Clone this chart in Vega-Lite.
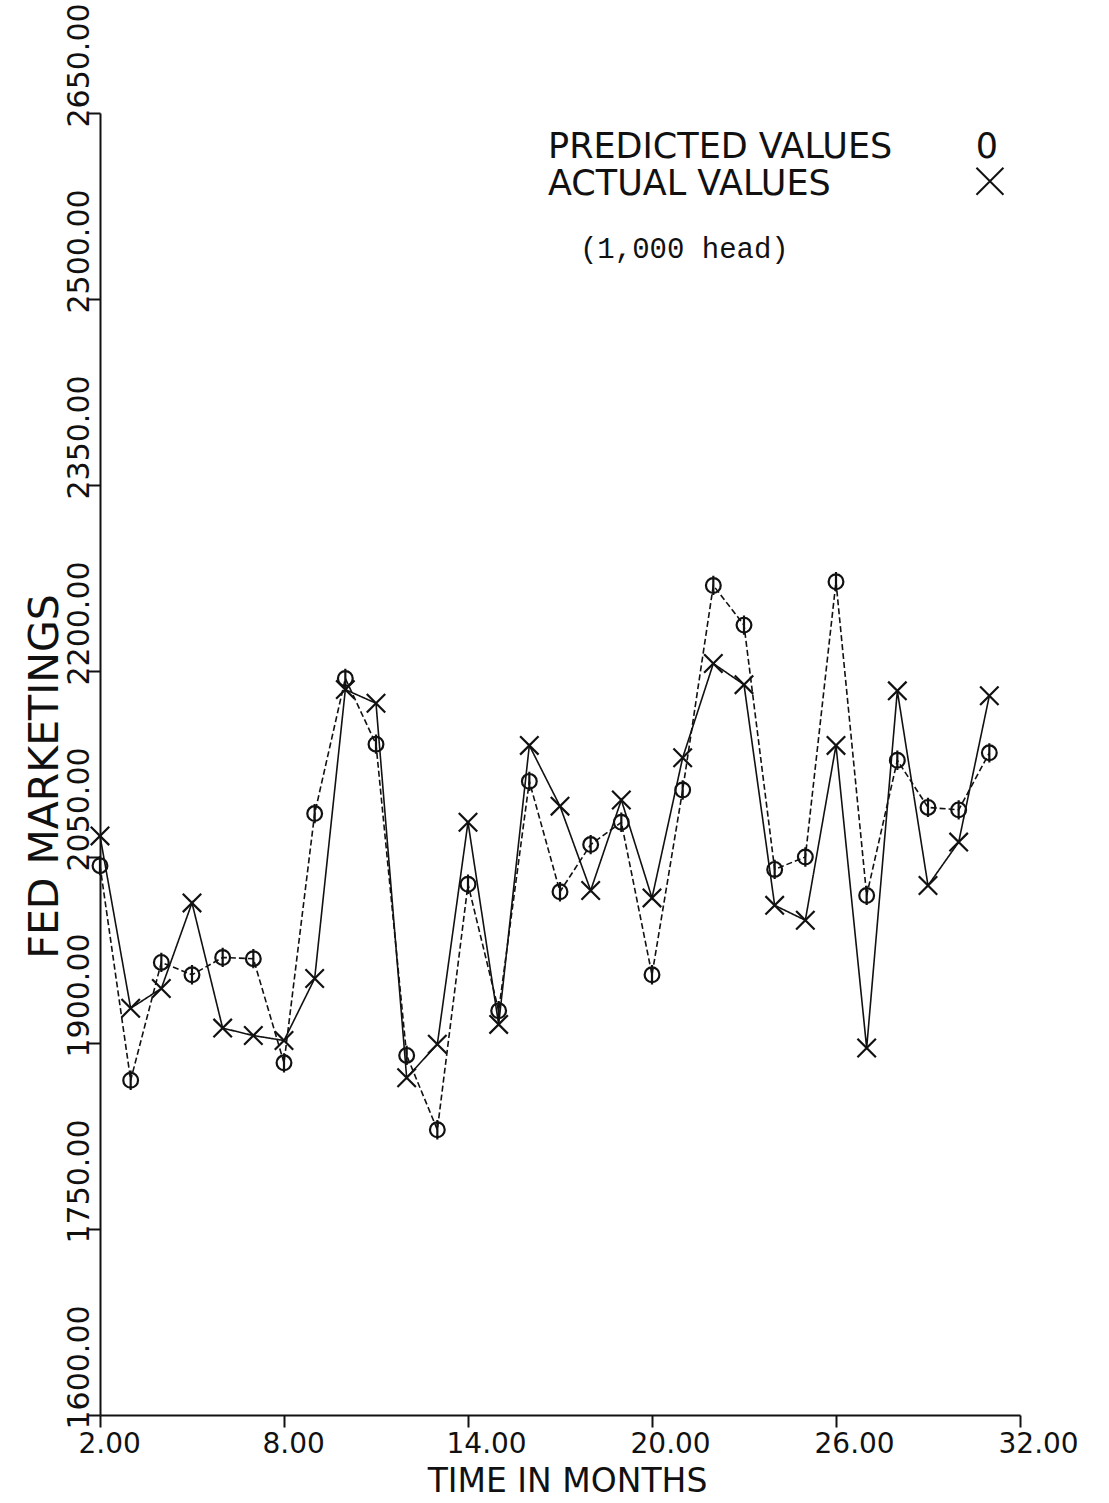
{
  "$schema": "https://vega.github.io/schema/vega-lite/v6.json",
  "width": 920,
  "height": 1302,
  "autosize": {"type": "none"},
  "padding": {"left": 100, "top": 113, "right": 89, "bottom": 88},
  "background": "white",
  "config": {
    "view": {"stroke": null},
    "axis": {
      "grid": false,
      "domainColor": "#111",
      "domainWidth": 2,
      "tickColor": "#111",
      "tickWidth": 2,
      "tickSize": 12,
      "labelColor": "#111",
      "labelFont": "DejaVu Sans",
      "labelFontSize": 30,
      "titleColor": "#111",
      "titleFont": "DejaVu Sans",
      "titleFontWeight": "normal"
    }
  },
  "datasets": {
    "series": [
      {"month": 2, "series": "Predicted", "value": 2043},
      {"month": 3, "series": "Predicted", "value": 1870},
      {"month": 4, "series": "Predicted", "value": 1965},
      {"month": 5, "series": "Predicted", "value": 1955},
      {"month": 6, "series": "Predicted", "value": 1969},
      {"month": 7, "series": "Predicted", "value": 1968},
      {"month": 8, "series": "Predicted", "value": 1884},
      {"month": 9, "series": "Predicted", "value": 2085},
      {"month": 10, "series": "Predicted", "value": 2194},
      {"month": 11, "series": "Predicted", "value": 2141},
      {"month": 12, "series": "Predicted", "value": 1890},
      {"month": 13, "series": "Predicted", "value": 1830},
      {"month": 14, "series": "Predicted", "value": 2028},
      {"month": 15, "series": "Predicted", "value": 1926},
      {"month": 16, "series": "Predicted", "value": 2111},
      {"month": 17, "series": "Predicted", "value": 2022},
      {"month": 18, "series": "Predicted", "value": 2060},
      {"month": 19, "series": "Predicted", "value": 2078},
      {"month": 20, "series": "Predicted", "value": 1955},
      {"month": 21, "series": "Predicted", "value": 2104},
      {"month": 22, "series": "Predicted", "value": 2269},
      {"month": 23, "series": "Predicted", "value": 2237},
      {"month": 24, "series": "Predicted", "value": 2040},
      {"month": 25, "series": "Predicted", "value": 2050},
      {"month": 26, "series": "Predicted", "value": 2272},
      {"month": 27, "series": "Predicted", "value": 2019},
      {"month": 28, "series": "Predicted", "value": 2128},
      {"month": 29, "series": "Predicted", "value": 2090},
      {"month": 30, "series": "Predicted", "value": 2088},
      {"month": 31, "series": "Predicted", "value": 2134},
      {"month": 2, "series": "Actual", "value": 2067},
      {"month": 3, "series": "Actual", "value": 1928},
      {"month": 4, "series": "Actual", "value": 1944},
      {"month": 5, "series": "Actual", "value": 2013},
      {"month": 6, "series": "Actual", "value": 1912},
      {"month": 7, "series": "Actual", "value": 1906},
      {"month": 8, "series": "Actual", "value": 1902},
      {"month": 9, "series": "Actual", "value": 1952},
      {"month": 10, "series": "Actual", "value": 2185},
      {"month": 11, "series": "Actual", "value": 2174},
      {"month": 12, "series": "Actual", "value": 1872},
      {"month": 13, "series": "Actual", "value": 1899},
      {"month": 14, "series": "Actual", "value": 2078},
      {"month": 15, "series": "Actual", "value": 1915},
      {"month": 16, "series": "Actual", "value": 2140},
      {"month": 17, "series": "Actual", "value": 2091},
      {"month": 18, "series": "Actual", "value": 2023},
      {"month": 19, "series": "Actual", "value": 2096},
      {"month": 20, "series": "Actual", "value": 2017},
      {"month": 21, "series": "Actual", "value": 2130},
      {"month": 22, "series": "Actual", "value": 2206},
      {"month": 23, "series": "Actual", "value": 2189},
      {"month": 24, "series": "Actual", "value": 2011},
      {"month": 25, "series": "Actual", "value": 1999},
      {"month": 26, "series": "Actual", "value": 2140},
      {"month": 27, "series": "Actual", "value": 1896},
      {"month": 28, "series": "Actual", "value": 2184},
      {"month": 29, "series": "Actual", "value": 2027},
      {"month": 30, "series": "Actual", "value": 2062},
      {"month": 31, "series": "Actual", "value": 2180}
    ]
  },
  "layer": [
    {
      "data": {"name": "series"},
      "mark": {"type": "line", "color": "#111", "strokeWidth": 1.6},
      "encoding": {
        "x": {
          "field": "month", "type": "quantitative",
          "scale": {"domain": [2, 32], "nice": false, "zero": false},
          "axis": {
            "values": [2, 8, 14, 20, 26, 32],
            "format": ".2f",
            "labelAlign": "left",
            "labelBaseline": "top",
            "labelOffset": -22,
            "labelPadding": 3,
            "labelFontSize": 28,
            "title": "TIME IN MONTHS",
            "titleFontSize": 33,
            "titleX": 467,
            "titleY": 76,
            "titleAlign": "center",
            "titleBaseline": "alphabetic"
          }
        },
        "y": {
          "field": "value", "type": "quantitative",
          "scale": {"domain": [1600, 2650], "nice": false, "zero": false},
          "axis": {
            "values": [1600, 1750, 1900, 2050, 2200, 2350, 2500, 2650],
            "format": ".2f",
            "labelAngle": 270,
            "labelAlign": "left",
            "labelBaseline": "alphabetic",
            "labelOffset": 14,
            "labelPadding": 0,
            "title": "FED MARKETINGS",
            "titleFontSize": 41,
            "titleAngle": 270,
            "titleX": -43,
            "titleY": 663,
            "titleAlign": "center",
            "titleBaseline": "alphabetic"
          }
        },
        "detail": {"field": "series"},
        "strokeDash": {
          "field": "series", "type": "nominal",
          "scale": {"domain": ["Predicted", "Actual"], "range": [[6, 3], [1, 0]]},
          "legend": null
        }
      }
    },
    {
      "data": {"name": "series"},
      "mark": {"type": "point", "filled": false, "stroke": "#111", "strokeWidth": 2.2, "size": 340, "opacity": 1},
      "encoding": {
        "x": {"field": "month", "type": "quantitative"},
        "y": {"field": "value", "type": "quantitative"},
        "shape": {
          "field": "series", "type": "nominal",
          "scale": {
            "domain": ["Predicted", "Actual"],
            "range": [
              "M -0.8 0 A 0.8 0.8 0 1 0 0.8 0 A 0.8 0.8 0 1 0 -0.8 0 M 0 -1.05 L 0 1.05",
              "M -1 -1 L 1 1 M -1 1 L 1 -1"
            ]
          },
          "legend": null
        }
      }
    },
    {
      "data": {"values": [{}]},
      "mark": {"type": "text", "font": "DejaVu Sans", "fontSize": 35, "align": "left", "baseline": "alphabetic", "color": "#111"},
      "encoding": {
        "x": {"datum": 16.61, "type": "quantitative"},
        "y": {"datum": 2614, "type": "quantitative"},
        "text": {"value": "PREDICTED VALUES"}
      }
    },
    {
      "data": {"values": [{}]},
      "mark": {"type": "text", "font": "DejaVu Sans", "fontSize": 35, "align": "center", "baseline": "alphabetic", "color": "#111"},
      "encoding": {
        "x": {"datum": 30.92, "type": "quantitative"},
        "y": {"datum": 2614, "type": "quantitative"},
        "text": {"value": "0"}
      }
    },
    {
      "data": {"values": [{}]},
      "mark": {"type": "text", "font": "DejaVu Sans", "fontSize": 35, "align": "left", "baseline": "alphabetic", "color": "#111"},
      "encoding": {
        "x": {"datum": 16.61, "type": "quantitative"},
        "y": {"datum": 2584, "type": "quantitative"},
        "text": {"value": "ACTUAL VALUES"}
      }
    },
    {
      "data": {"values": [{}]},
      "mark": {"type": "point", "filled": false, "stroke": "#111", "strokeWidth": 2, "size": 729, "shape": "M -1 -1 L 1 1 M -1 1 L 1 -1", "opacity": 1},
      "encoding": {
        "x": {"datum": 31.02, "type": "quantitative"},
        "y": {"datum": 2595, "type": "quantitative"}
      }
    },
    {
      "data": {"values": [{}]},
      "mark": {"type": "text", "font": "Liberation Mono", "fontSize": 29, "align": "left", "baseline": "alphabetic", "color": "#111"},
      "encoding": {
        "x": {"datum": 17.65, "type": "quantitative"},
        "y": {"datum": 2533, "type": "quantitative"},
        "text": {"value": "(1,000 head)"}
      }
    }
  ]
}
